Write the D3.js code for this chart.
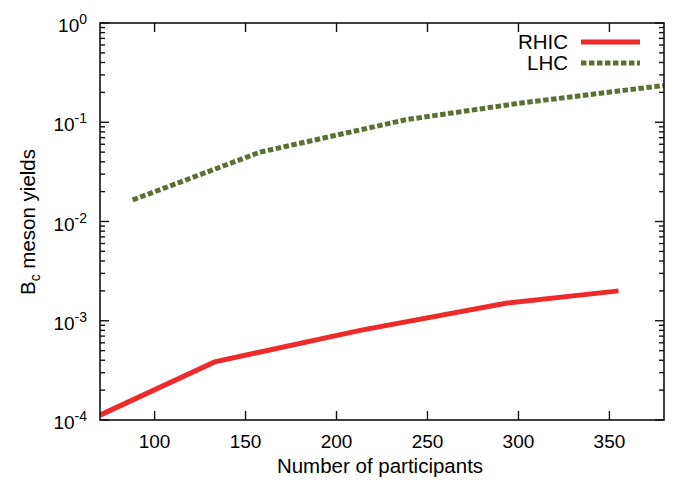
<!DOCTYPE html>
<html>
<head>
<meta charset="utf-8">
<script src="https://cdn.jsdelivr.net/npm/d3@7"></script>
<style>
  body { margin: 0; background: #fff; }
  text { font-family: "Liberation Sans", Arial, Helvetica, sans-serif; fill: #000; }
</style>
</head>
<body>
<div id="chart"></div>
<script>
// data
var rhicN = [70, 133, 213, 293, 355];
var rhicY = [1.12e-4, 3.85e-4, 8.0e-4, 1.5e-3, 2.0e-3];
var lhcN = [88, 158, 238, 300, 380];
var lhcY = [0.0165, 0.05, 0.106, 0.155, 0.235];
var xTicks = [100, 150, 200, 250, 300, 350];
var yDecades = [-4, -3, -2, -1, 0];
var seriesNames = ["RHIC", "LHC"];

var margin = { left: 100, right: 21, top: 23, bottom: 63 };
var W = 685, H = 483;
var width = W - margin.left - margin.right;
var height = H - margin.top - margin.bottom;

var svg = d3.select("#chart").append("svg")
    .attr("width", W)
    .attr("height", H);

var g = svg.append("g")
    .attr("transform", "translate(" + margin.left + "," + margin.top + ")");

var x = d3.scaleLinear().domain([70, 380]).range([0, width]);
var y = d3.scaleLog().domain([1e-4, 1]).range([height, 0]);

g.append("clipPath").attr("id", "clip")
  .append("rect").attr("width", width).attr("height", height);

// minor ticks 2..9 within each decade
var minor = [];
yDecades.slice(0, -1).forEach(function(e) {
  for (var k = 2; k <= 9; k++) minor.push(k * Math.pow(10, e));
});
var major = yDecades.map(function(e) { return Math.pow(10, e); });

var axisColor = "#111";
var tk = g.append("g").attr("stroke", axisColor).attr("stroke-width", 1.4);

// x ticks bottom and top (inward)
xTicks.forEach(function(v) {
  tk.append("line").attr("x1", x(v)).attr("x2", x(v)).attr("y1", height).attr("y2", height - 9);
  tk.append("line").attr("x1", x(v)).attr("x2", x(v)).attr("y1", 0).attr("y2", 9);
});
// y ticks left and right
major.forEach(function(v) {
  tk.append("line").attr("x1", 0).attr("x2", 9).attr("y1", y(v)).attr("y2", y(v));
  tk.append("line").attr("x1", width).attr("x2", width - 9).attr("y1", y(v)).attr("y2", y(v));
});
minor.forEach(function(v) {
  tk.append("line").attr("x1", 0).attr("x2", 5).attr("y1", y(v)).attr("y2", y(v));
  tk.append("line").attr("x1", width).attr("x2", width - 5).attr("y1", y(v)).attr("y2", y(v));
});

// x tick labels
g.selectAll("text.xl").data(xTicks).enter().append("text")
  .attr("class", "xl")
  .attr("x", function(d) { return x(d); })
  .attr("y", height + 28)
  .attr("text-anchor", "middle")
  .style("font-size", "19px")
  .text(function(d) { return d; });

// y tick labels 10^n
var yl = g.selectAll("text.yl").data(yDecades).enter().append("text")
  .attr("class", "yl")
  .attr("x", -13)
  .attr("y", function(d) { return y(Math.pow(10, d)) + 9; })
  .attr("text-anchor", "end")
  .style("font-size", "19px");
yl.append("tspan").text("10");
yl.append("tspan").attr("dy", -8).style("font-size", "14px").text(function(d) { return d; });

// axis titles
g.append("text")
  .attr("x", width / 2 - 2)
  .attr("y", height + 53)
  .attr("text-anchor", "middle")
  .style("font-size", "20.5px")
  .text("Number of participants");

var yt = svg.append("text")
  .attr("transform", "translate(35," + (margin.top + 199) + ") rotate(-90)")
  .attr("text-anchor", "middle")
  .style("font-size", "20.5px");
yt.append("tspan").text("B");
yt.append("tspan").attr("dy", 5).style("font-size", "14px").text("c");
yt.append("tspan").attr("dy", -5).text(" meson yields");

// lines
var line = d3.line()
  .x(function(d) { return x(d[0]); })
  .y(function(d) { return y(d[1]); });

var rhic = d3.zip(rhicN, rhicY);
var lhc = d3.zip(lhcN, lhcY);

var plot = g.append("g").attr("clip-path", "url(#clip)");
plot.append("path").datum(rhic)
  .attr("d", line)
  .attr("fill", "none")
  .attr("stroke", "#ee2a2a")
  .attr("stroke-width", 5);
plot.append("path").datum(lhc)
  .attr("d", line)
  .attr("fill", "none")
  .attr("stroke", "#5b7033")
  .attr("stroke-width", 5)
  .attr("stroke-dasharray", "5.5,2.5");

// frame
g.append("rect")
  .attr("width", width).attr("height", height)
  .attr("fill", "none")
  .attr("stroke", axisColor)
  .attr("stroke-width", 1.6);

// legend
var leg = g.append("g").attr("transform", "translate(" + (width - 96) + ",19)");
var styles = [
  { stroke: "#ee2a2a", dash: null },
  { stroke: "#5b7033", dash: "5.5,2.5" }
];
seriesNames.forEach(function(name, i) {
  var row = leg.append("g").attr("transform", "translate(0," + (i * 21) + ")");
  row.append("text")
    .attr("x", 0).attr("y", 7)
    .attr("text-anchor", "end")
    .style("font-size", "20.5px")
    .text(name);
  row.append("line")
    .attr("x1", 13).attr("x2", 72)
    .attr("y1", 0).attr("y2", 0)
    .attr("stroke", styles[i].stroke)
    .attr("stroke-width", 5)
    .attr("stroke-dasharray", styles[i].dash);
});
</script>
</body>
</html>
